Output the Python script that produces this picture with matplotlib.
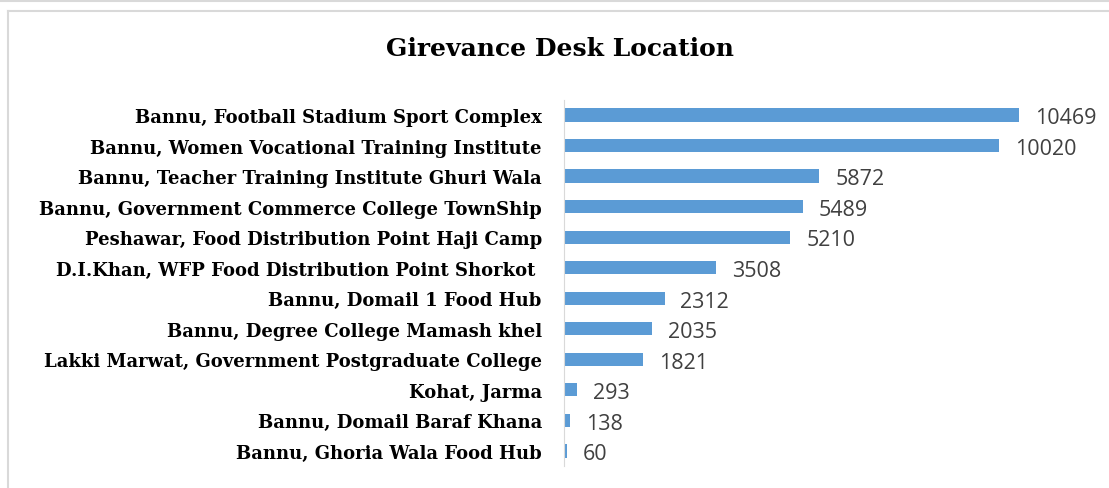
import matplotlib
matplotlib.use("Agg")
import matplotlib.pyplot as plt
from matplotlib.lines import Line2D

locations = [
    "Bannu, Football Stadium Sport Complex",
    "Bannu, Women Vocational Training Institute",
    "Bannu, Teacher Training Institute Ghuri Wala",
    "Bannu, Government Commerce College TownShip",
    "Peshawar, Food Distribution Point Haji Camp",
    "D.I.Khan, WFP Food Distribution Point Shorkot ",
    "Bannu, Domail 1 Food Hub",
    "Bannu, Degree College Mamash khel",
    "Lakki Marwat, Government Postgraduate College",
    "Kohat, Jarma",
    "Bannu, Domail Baraf Khana",
    "Bannu, Ghoria Wala Food Hub",
]
counts = [10469, 10020, 5872, 5489, 5210, 3508, 2312, 2035, 1821, 293, 138, 60]

bar_color = "#5B9BD5"
label_font = ["DejaVu Serif"]

fig = plt.figure(figsize=(11.09, 4.89), dpi=100)
ax = fig.add_axes([0.5086, 0.0444, 0.4702, 0.7497])

ypos = list(range(len(locations)))
ax.barh(ypos, counts, height=0.43, color=bar_color)
ax.set_ylim(len(locations) - 0.5, -0.5)
ax.set_xlim(0, 12000)

for y, v in zip(ypos, counts):
    ax.annotate(str(v), (v, y), xytext=(11.5, -2), textcoords="offset points",
                ha="left", va="center", fontsize=15.5, color="#404040",
                family=["Open Sans", "DejaVu Sans"])

ax.set_yticks(ypos)
ax.set_yticklabels(locations, fontsize=13, fontweight="bold", family=label_font)
ax.tick_params(axis="y", length=0, pad=16)
ax.set_xticks([])
for side in ["top", "right", "bottom"]:
    ax.spines[side].set_visible(False)
ax.spines["left"].set_color("#d9d9d9")

fig.text(0.505, 0.90, "Girevance Desk Location", ha="center", va="center",
         fontsize=18, fontweight="bold", family=label_font)

# outer frame lines
fig.add_artist(Line2D([0, 1], [1 - 1.5 / 489, 1 - 1.5 / 489], color="#d9d9d9", lw=1.5))
fig.add_artist(Line2D([8 / 1109, 1], [1 - 11.5 / 489, 1 - 11.5 / 489], color="#d9d9d9", lw=1.5))
fig.add_artist(Line2D([8 / 1109, 8 / 1109], [0, 1 - 11.5 / 489], color="#d9d9d9", lw=1.5))

fig.savefig("out.png", dpi=100)
